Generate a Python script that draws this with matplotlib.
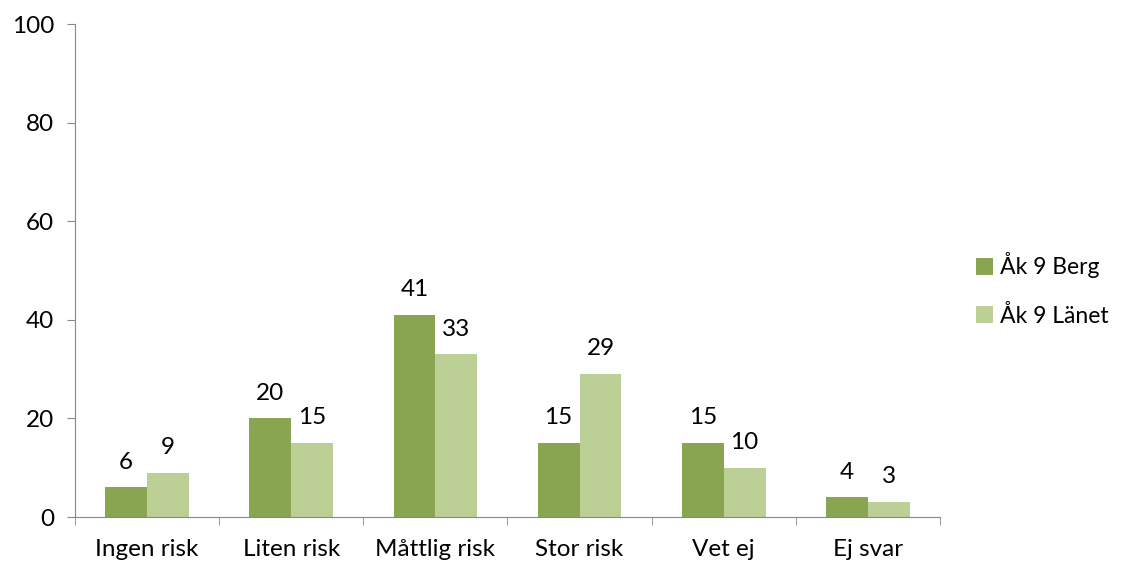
import matplotlib.pyplot as plt
import numpy as np

categories = ['Ingen risk', 'Liten risk', 'Måttlig risk', 'Stor risk', 'Vet ej', 'Ej svar']
berg = [6, 20, 41, 15, 15, 4]
lanet = [9, 15, 33, 29, 10, 3]
series_names = ['Åk 9 Berg', 'Åk 9 Länet']

plt.rcParams['font.family'] = ['Lato', 'DejaVu Sans']

fig = plt.figure(figsize=(11.21, 5.62), dpi=100)
ax = fig.add_axes([0.0669, 0.080, 0.7716, 0.877])

x = np.arange(len(categories))
w = 0.29
dark = '#8aa552'
light = '#bbcf97'
b1 = ax.bar(x - w / 2, berg, w, color=dark, label=series_names[0])
b2 = ax.bar(x + w / 2, lanet, w, color=light, label=series_names[1])

for bars, vals in ((b1, berg), (b2, lanet)):
    for r, v in zip(bars, vals):
        ax.text(r.get_x() + r.get_width() / 2, v + 3, str(v),
                ha='center', va='bottom', fontsize=17.5)

ax.set_xlim(-0.5, len(categories) - 0.5)
ax.set_ylim(0, 100)
ax.set_yticks([0, 20, 40, 60, 80, 100])
ax.set_xticks(x)
ax.set_xticklabels(categories, fontsize=17.5)
ax.tick_params(axis='x', length=0, pad=16)
ax.set_xticks(np.arange(-0.5, len(categories)), minor=True)
ax.tick_params(axis='x', which='minor', length=6, color='#888888', direction='out')
ax.tick_params(axis='y', labelsize=17.5, length=6, color='#888888', direction='out', pad=9)

for s in ('top', 'right'):
    ax.spines[s].set_visible(False)
for s in ('left', 'bottom'):
    ax.spines[s].set_color('#888888')

leg = ax.legend(loc='center left', bbox_to_anchor=(1.018, 0.462), frameon=False,
                fontsize=16.5, handlelength=0.75, handleheight=0.75,
                handletextpad=0.3, labelspacing=1.15)

fig.savefig('out.png', dpi=100)
